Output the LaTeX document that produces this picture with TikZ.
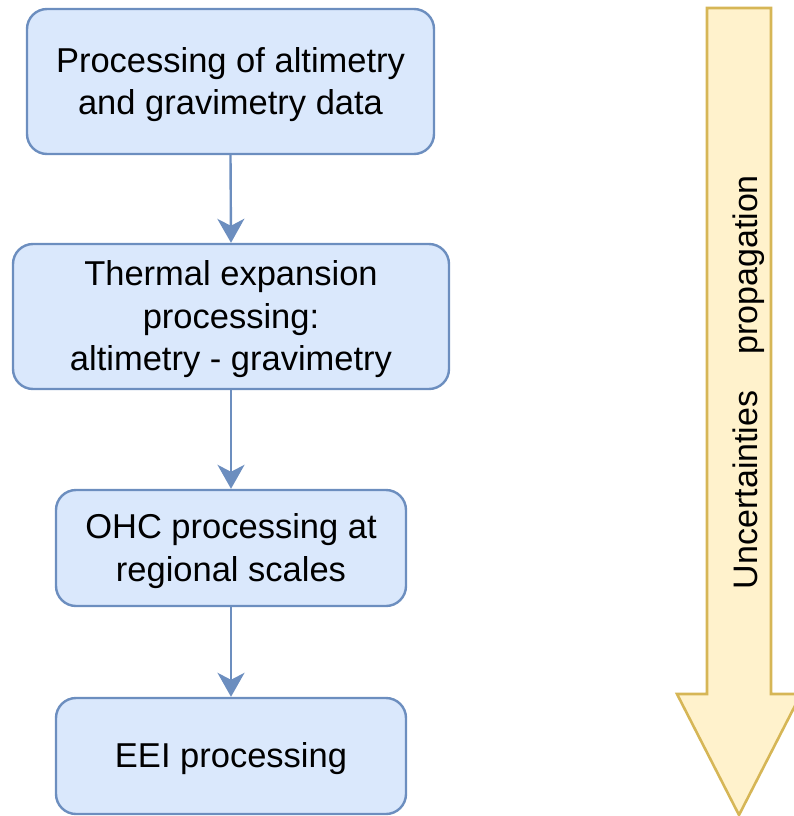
\documentclass[tikz,border=0pt]{standalone}
\usepackage{fontspec}
\setmainfont{Liberation Sans}
\usetikzlibrary{arrows.meta}
\definecolor{boxfill}{HTML}{DAE8FC}
\definecolor{boxline}{HTML}{6C8EBF}
\definecolor{arrfill}{HTML}{FFF2CC}
\definecolor{arrline}{HTML}{D6B656}
\newcommand{\toppad}{\rule{0pt}{31pt}}
\begin{document}
\begin{tikzpicture}[x=1pt,y=-1pt,
  procbox/.style={draw=boxline, fill=boxfill, line width=2.4pt, rounded corners=20pt,
    align=center, font=\fontsize{34.5}{42.5}\selectfont, inner sep=0pt},
  flow/.style={draw=boxline, line width=2.4pt, -{Stealth[length=24pt,width=27pt,inset=7pt]}},
  bigarrow/.style={draw=arrline, fill=arrfill, line width=2.6pt, line join=miter}]
\useasboundingbox (0,0) rectangle (793,816);
\node[procbox, minimum width=407pt, minimum height=145pt] (b1) at (230.5,81.5)
  {\toppad Processing of altimetry\\and gravimetry data};
\node[procbox, minimum width=436pt, minimum height=145pt] (b2) at (231,316.5)
  {\toppad Thermal expansion\\processing:\\altimetry - gravimetry};
\node[procbox, minimum width=350pt, minimum height=116pt] (b3) at (231,548)
  {\toppad OHC processing at\\regional scales};
\node[procbox, minimum width=350pt, minimum height=116pt] (b4) at (231,756)
  {\toppad EEI processing};
\draw[flow] (b1.south) -- (b2.north);
\draw[flow] (b2.south) -- (b3.north);
\draw[flow] (b3.south) -- (b4.north);
\draw[bigarrow] (707,8) -- (771,8) -- (771,694) -- (801,694) -- (739,815) -- (677,694) -- (707,694) -- cycle;
\node[rotate=90, anchor=base, inner sep=0pt, font=\fontsize{34}{40}\selectfont] (lab) at (757,382)
  {Uncertainties\hspace{36pt}propagation};
\end{tikzpicture}
\end{document}
